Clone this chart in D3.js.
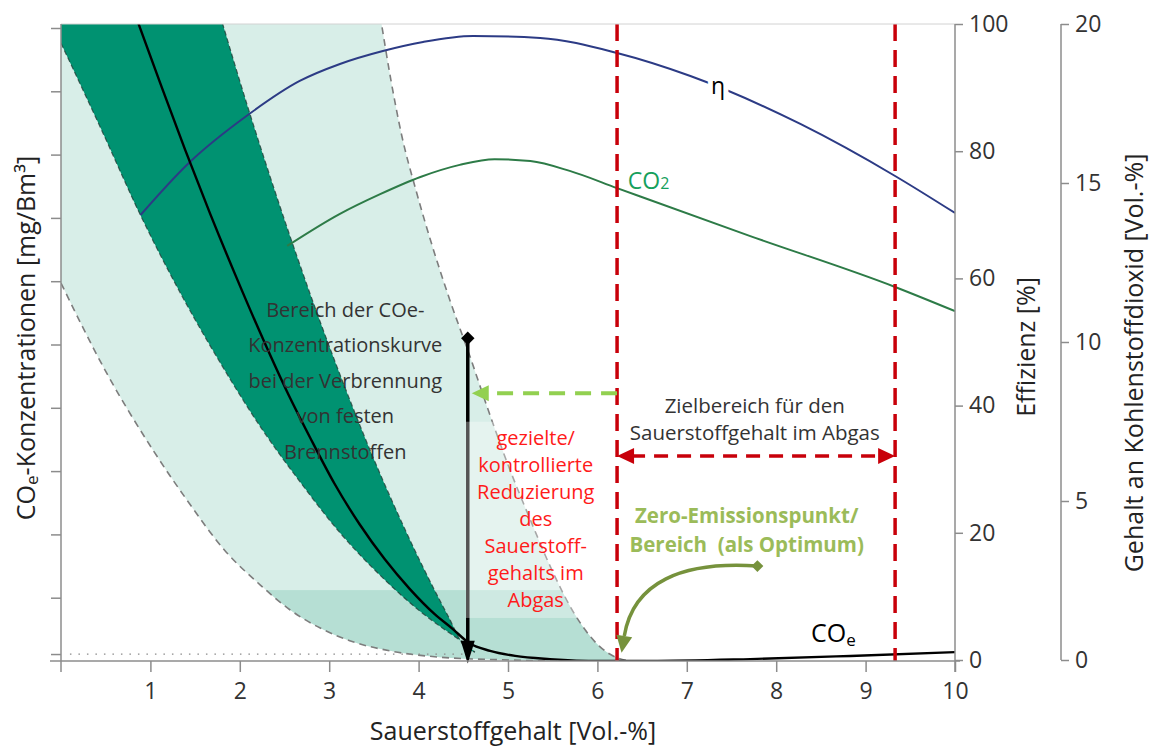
<!DOCTYPE html>
<html>
<head>
<meta charset="utf-8">
<script src="https://cdn.jsdelivr.net/npm/d3@7"></script>
<style>
  body { margin: 0; background: #fff; }
  text { font-family: "Open Sans", "Noto Sans", sans-serif; }
</style>
</head>
<body>
<svg id="chart" width="1150" height="747"></svg>
<script>
// ---- data -------------------------------------------------------------
// Oxygen content [Vol.-%] on the x axis
const o2Ticks = [1, 2, 3, 4, 5, 6, 7, 8, 9, 10];
const effTicks = [0, 20, 40, 60, 80, 100];
const co2Ticks = [0, 5, 10, 15, 20];
const coeTicks = [0.11, 1, 2, 3, 4, 5, 6, 7, 8, 9, 10];

// COe concentration (relative units on left axis) vs O2
const coeCurve = [[0.83, 10.21], [1.11, 9.13], [1.39, 8.07], [1.67, 7.06], [1.95, 6.10], [2.23, 5.18],
  [2.51, 4.31], [2.79, 3.52], [3.06, 2.80], [3.34, 2.16], [3.62, 1.61], [3.90, 1.14], [4.18, 0.74],
  [4.37, 0.52], [4.57, 0.28], [4.80, 0.16], [5.08, 0.08], [5.47, 0.03], [6.03, 0], [6.59, 0],
  [7.71, 0.03], [8.83, 0.08], [10, 0.14]];

// Narrow (dark) band around the COe curve
const darkLeftEdge = [[0, 9.76], [0.45, 8.40], [0.90, 7.01], [1.34, 5.80], [1.79, 4.69], [2.24, 3.68],
  [2.69, 2.80], [3.13, 2.01], [3.58, 1.34], [4.03, 0.77], [4.47, 0.32], [4.54, 0.25], [4.63, 0.14]];
const darkRightEdge = [[1.78, 10.2], [2.09, 8.75], [2.37, 7.52], [2.65, 6.35], [2.93, 5.24], [3.21, 4.20],
  [3.49, 3.22], [3.77, 2.32], [4.05, 1.48], [4.33, 0.71], [4.52, 0.22], [4.63, 0.14]];

// Wide (light) band for solid fuels
const lightUpperEdge = [[3.57, 10.2], [3.69, 9.18], [3.81, 8.31], [3.97, 7.44], [4.15, 6.57], [4.35, 5.70],
  [4.57, 4.83], [4.78, 3.96], [5.00, 3.10], [5.25, 2.23], [5.49, 1.44], [5.75, 0.73], [6.01, 0.25],
  [6.22, 0.05], [6.36, 0]];
const lightLowerEdge = [[0, 5.97], [0.51, 4.55], [1.03, 3.33], [1.41, 2.54], [1.83, 1.75], [2.23, 1.20],
  [2.56, 0.81], [2.90, 0.52], [3.23, 0.32], [3.68, 0.16], [4.24, 0.06], [4.91, 0.02], [5.58, 0], [6.36, 0]];

// Efficiency η [%]
const etaCurve = [[0.89, 69.97], [1.43, 78.14], [2.09, 85.69], [2.67, 91.04], [3.12, 93.71], [3.60, 95.75],
  [4.05, 97.17], [4.61, 98.11], [5.36, 97.80], [6.22, 95.44], [7.04, 91.82], [8.27, 84.28], [9.33, 76.10],
  [10, 70.28]];

// CO2 content [Vol.-%]
const co2Curve = [[2.53, 13.02], [3.12, 14.03], [3.57, 14.65], [4.02, 15.19], [4.46, 15.57], [4.85, 15.75],
  [5.25, 15.69], [5.69, 15.38], [6.22, 14.84], [7.71, 13.33], [9.33, 11.73], [10, 10.97]];

// Annotation anchors (data units)
const targetRange = [6.22, 9.33];     // target O2 range
const targetArrowLevel = 3.24;
const reductionO2 = 4.55;             // controlled reduction marker
const reductionTop = 5.10;
const reductionArrowLevel = 4.23;     // green dashed arrow
const baseLevel = 0.11;               // dotted reference level
const stripLevel = 1.12;              // darker strip in the wide band
const hazeRange = [0.68, 3.78];       // lighter zone right of the marker
const optimumStart = [7.79, 1.50];
const optimumTip = [6.27, 0.13];

const bandNote = ["Bereich der COe-", "Konzentrationskurve", "bei der Verbrennung", "von festen", "Brennstoffen"];
const reductionNote = ["gezielte/", "kontrollierte", "Reduzierung", "des", "Sauerstoff-", "gehalts im", "Abgas"];
const targetNote = ["Zielbereich für den", "Sauerstoffgehalt im Abgas"];
const optimumNote = ["Zero-Emissionspunkt/", "Bereich  (als Optimum)"];

// ---- scales -----------------------------------------------------------
const svg = d3.select("#chart");
const x = d3.scaleLinear().domain([0, 10]).range([61, 955]);
const yCo = d3.scaleLinear().domain([0, 10]).range([661, 28]);
const yEff = d3.scaleLinear().domain([0, 100]).range([660, 24]);
const yCo2 = d3.scaleLinear().domain([0, 20]).range([660, 24]);
const plotTop = yEff(100), plotBottom = yCo(0);

const defs = svg.append("defs");
defs.append("clipPath").attr("id", "plotClip").append("rect")
  .attr("x", x(0)).attr("y", plotTop).attr("width", x(10) - x(0)).attr("height", plotBottom - plotTop);

const smooth = d3.curveMonotoneX;
const coLine = d3.line().x(d => x(d[0])).y(d => yCo(d[1])).curve(smooth);
const effLine = d3.line().x(d => x(d[0])).y(d => yEff(d[1])).curve(smooth);
const co2Line = d3.line().x(d => x(d[0])).y(d => yCo2(d[1])).curve(smooth);
const pt = p => x(p[0]) + "," + yCo(p[1]);

// closed outline of the wide band
const lightPath = coLine(lightUpperEdge) +
  coLine(lightLowerEdge.slice().reverse()).replace(/^M/, "L") +
  "L" + pt([0, 10.2]) + "Z";
// closed outline of the narrow band
const darkPath = "M" + pt([0, 10.2]) + coLine(darkLeftEdge).replace(/^M/, "L") +
  coLine(darkRightEdge.slice().reverse()).replace(/^M/, "L") + "Z";

defs.append("clipPath").attr("id", "lightClip").append("path").attr("d", lightPath);

const plot = svg.append("g").attr("clip-path", "url(#plotClip)");

// wide band
plot.append("path").attr("d", lightPath).attr("fill", "#d8eee8");
plot.append("g").attr("clip-path", "url(#lightClip)").append("rect")
  .attr("x", x(0)).attr("width", x(10) - x(0))
  .attr("y", yCo(stripLevel)).attr("height", yCo(0) - yCo(stripLevel))
  .attr("fill", "#b6dfd4");

// narrow band
plot.append("path").attr("d", darkPath).attr("fill", "#009271");
[darkLeftEdge, darkRightEdge].forEach(edge => {
  plot.append("path").attr("d", coLine(edge)).attr("fill", "none")
    .attr("stroke", "#1f3a33").attr("stroke-width", 1.2).attr("stroke-dasharray", "5,3").attr("opacity", 0.75);
});
[lightUpperEdge, lightLowerEdge].forEach(edge => {
  plot.append("path").attr("d", coLine(edge)).attr("fill", "none")
    .attr("stroke", "#7d7d7d").attr("stroke-width", 1.6).attr("stroke-dasharray", "7,5");
});

// dotted reference level
plot.append("line")
  .attr("x1", x(0.1)).attr("x2", x(reductionO2)).attr("y1", yCo(baseLevel)).attr("y2", yCo(baseLevel))
  .attr("stroke", "#8a8a8a").attr("stroke-width", 1.3).attr("stroke-dasharray", "1.5,7");

// curves
plot.append("path").attr("d", effLine(etaCurve)).attr("fill", "none").attr("stroke", "#2c3b85").attr("stroke-width", 2);
plot.append("path").attr("d", co2Line(co2Curve)).attr("fill", "none").attr("stroke", "#2d7b47").attr("stroke-width", 2);
plot.append("path").attr("d", coLine(coeCurve)).attr("fill", "none").attr("stroke", "#000").attr("stroke-width", 2.4);

// vertical reduction marker with diamond and arrow head
const rx = x(reductionO2);
svg.append("line").attr("x1", rx).attr("x2", rx).attr("y1", yCo(reductionTop)).attr("y2", yCo(0.3))
  .attr("stroke", "#000").attr("stroke-width", 3.5);
svg.append("path").attr("d", `M${rx - 7},${yCo(0.32)}L${rx + 7},${yCo(0.32)}L${rx},${yCo(-0.04)}Z`).attr("fill", "#000");
svg.append("path").attr("d", d3.symbol(d3.symbolSquare, 90)())
  .attr("transform", `translate(${rx},${yCo(reductionTop)}) rotate(45)`).attr("fill", "#000");

// lighter haze right of the marker
svg.append("rect").attr("x", rx - 2).attr("width", x(targetRange[0]) - rx + 2)
  .attr("y", yCo(hazeRange[1])).attr("height", yCo(hazeRange[0]) - yCo(hazeRange[1]))
  .attr("fill", "#fff").attr("opacity", 0.33);

// target range: red dashed verticals
targetRange.forEach(v => {
  svg.append("line").attr("x1", x(v)).attr("x2", x(v)).attr("y1", plotTop).attr("y2", plotBottom)
    .attr("stroke", "#c8000a").attr("stroke-width", 3.5).attr("stroke-dasharray", "17,9");
});
// red double arrow
const ta = yCo(targetArrowLevel), tl = x(targetRange[0]), tr = x(targetRange[1]);
svg.append("line").attr("x1", tl + 14).attr("x2", tr - 14).attr("y1", ta).attr("y2", ta)
  .attr("stroke", "#c8000a").attr("stroke-width", 3.5).attr("stroke-dasharray", "14,9");
svg.append("path").attr("d", `M${tl},${ta}L${tl + 17},${ta - 8}L${tl + 17},${ta + 8}Z`).attr("fill", "#c8000a");
svg.append("path").attr("d", `M${tr},${ta}L${tr - 17},${ta - 8}L${tr - 17},${ta + 8}Z`).attr("fill", "#c8000a");

// green dashed arrow toward the marker
const ga = yCo(reductionArrowLevel), gl = rx + 4;
svg.append("line").attr("x1", x(targetRange[0])).attr("x2", gl + 16).attr("y1", ga).attr("y2", ga)
  .attr("stroke", "#92d050").attr("stroke-width", 4).attr("stroke-dasharray", "16,10");
svg.append("path").attr("d", `M${gl},${ga}L${gl + 17},${ga - 8}L${gl + 17},${ga + 8}Z`).attr("fill", "#92d050");

// curved arrow to the optimum point
const s = [x(optimumStart[0]), yCo(optimumStart[1])];
const tip = [x(optimumTip[0]), yCo(optimumTip[1])];
const c1 = [x(6.95), yCo(1.58)], c2 = [x(6.40), yCo(1.25)];
const dirx = tip[0] - c2[0], diry = tip[1] - c2[1];
const len = Math.hypot(dirx, diry), ux = dirx / len, uy = diry / len;
const base = [tip[0] - ux * 17, tip[1] - uy * 17];
const cp = d3.path();
cp.moveTo(s[0], s[1]);
cp.bezierCurveTo(c1[0], c1[1], c2[0], c2[1], base[0], base[1]);
svg.append("path").attr("d", cp.toString()).attr("fill", "none").attr("stroke", "#76923c").attr("stroke-width", 3.5);
svg.append("path").attr("d",
  `M${tip[0]},${tip[1]}L${base[0] - uy * 8},${base[1] + ux * 8}L${base[0] + uy * 8},${base[1] - ux * 8}Z`)
  .attr("fill", "#76923c");
svg.append("path").attr("d", d3.symbol(d3.symbolSquare, 70)())
  .attr("transform", `translate(${s[0]},${s[1]}) rotate(45)`).attr("fill", "#76923c");

// ---- axes -------------------------------------------------------------
const axisColor = "#8c8c8c";
function styleAxis(g) {
  g.select(".domain").remove();
  g.selectAll(".tick line").attr("stroke", axisColor).attr("stroke-width", 1.5);
  g.selectAll(".tick text").attr("fill", "#333").attr("font-size", 23)
    .attr("font-family", "'Open Sans', 'Noto Sans', sans-serif");
}
// frame lines
svg.append("line").attr("x1", x(0)).attr("x2", x(10)).attr("y1", plotTop).attr("y2", plotTop)
  .attr("stroke", "#d2d2d2").attr("stroke-width", 1);
svg.append("line").attr("x1", x(0)).attr("x2", x(0)).attr("y1", plotTop).attr("y2", plotBottom + 11)
  .attr("stroke", axisColor).attr("stroke-width", 1.5);
svg.append("line").attr("x1", x(0) - 11).attr("x2", x(10) + 5).attr("y1", plotBottom).attr("y2", plotBottom)
  .attr("stroke", axisColor).attr("stroke-width", 1.5);
svg.append("line").attr("x1", x(10)).attr("x2", x(10)).attr("y1", plotTop).attr("y2", plotBottom + 11)
  .attr("stroke", axisColor).attr("stroke-width", 1.5);

svg.append("g").attr("transform", `translate(0,${plotBottom})`)
  .call(d3.axisBottom(x).tickValues(o2Ticks).tickSize(11).tickPadding(11).tickFormat(d3.format("d")))
  .call(styleAxis);
svg.append("g").attr("transform", `translate(${x(0)},0)`)
  .call(d3.axisLeft(yCo).tickValues(coeTicks).tickSize(10).tickFormat(""))
  .call(styleAxis);
svg.append("g").attr("transform", `translate(${x(10)},0)`)
  .call(d3.axisRight(yEff).tickValues(effTicks).tickSize(8).tickPadding(6).tickFormat(d3.format("d")))
  .call(styleAxis);
const co2AxisX = 1061;
svg.append("line").attr("x1", co2AxisX).attr("x2", co2AxisX).attr("y1", yCo2(20)).attr("y2", yCo2(0))
  .attr("stroke", axisColor).attr("stroke-width", 1.5);
svg.append("g").attr("transform", `translate(${co2AxisX},0)`)
  .call(d3.axisRight(yCo2).tickValues(co2Ticks).tickSize(8).tickPadding(6).tickFormat(d3.format("d")))
  .call(styleAxis);

// axis titles
const titleSize = 25;
svg.append("text").attr("x", 513).attr("y", 730).attr("text-anchor", "middle")
  .attr("dominant-baseline", "central").attr("font-size", titleSize).attr("fill", "#222")
  .text("Sauerstoffgehalt [Vol.-%]");
const lt = svg.append("text").attr("transform", "translate(25,338) rotate(-90)").attr("text-anchor", "middle")
  .attr("dominant-baseline", "central").attr("font-size", titleSize).attr("fill", "#222");
lt.append("tspan").text("CO");
lt.append("tspan").attr("font-size", 17).attr("dy", 6).text("e");
lt.append("tspan").attr("dy", -6).text("-Konzentrationen [mg/Bm³]");
svg.append("text").attr("transform", "translate(1025,347) rotate(-90)").attr("text-anchor", "middle")
  .attr("dominant-baseline", "central").attr("font-size", titleSize).attr("fill", "#222").text("Effizienz [%]");
svg.append("text").attr("transform", "translate(1133,363) rotate(-90)").attr("text-anchor", "middle")
  .attr("dominant-baseline", "central").attr("font-size", titleSize).attr("fill", "#222")
  .text("Gehalt an Kohlenstoffdioxid [Vol.-%]");

// ---- labels & notes ---------------------------------------------------
function block(lines, cx, cy, spacing, size, attrs) {
  const t = svg.append("text").attr("text-anchor", "middle").attr("font-size", size)
    .style("white-space", "pre");
  Object.entries(attrs).forEach(([k, v]) => t.attr(k, v));
  lines.forEach((ln, i) => {
    t.append("tspan").attr("x", x(cx)).attr("y", yCo(cy) + i * spacing + size * 0.36).text(ln);
  });
  return t;
}
block(bandNote, 3.18, 5.55, 35.5, 20, { fill: "#333" });
block(reductionNote, 5.31, 3.52, 27, 20, { fill: "#ff1a1a" });
block(targetNote, 7.76, 4.04, 27, 20.5, { fill: "#333" });
block(optimumNote, 7.67, 2.29, 29, 20.5, { fill: "#9bbb59", "font-weight": "bold" });

// series labels
svg.append("text").attr("x", x(7.35)).attr("y", yEff(90.4)).attr("text-anchor", "middle")
  .attr("dominant-baseline", "central").attr("font-size", 23).attr("fill", "#000")
  .attr("stroke", "#fff").attr("stroke-width", 10).attr("paint-order", "stroke").text("η");
const co2Lbl = svg.append("text").attr("x", x(6.34)).attr("y", yCo2(15.1)).attr("dominant-baseline", "central")
  .attr("font-size", 23).attr("fill", "#16a05c");
co2Lbl.append("tspan").text("CO");
co2Lbl.append("tspan").attr("font-size", 16).attr("dy", 3).text("2");
const coeLbl = svg.append("text").attr("x", x(8.39)).attr("y", yCo(0.46)).attr("dominant-baseline", "central")
  .attr("font-size", 25).attr("fill", "#000");
coeLbl.append("tspan").text("CO");
coeLbl.append("tspan").attr("font-size", 17).attr("dy", 7).text("e");
</script>
</body>
</html>
